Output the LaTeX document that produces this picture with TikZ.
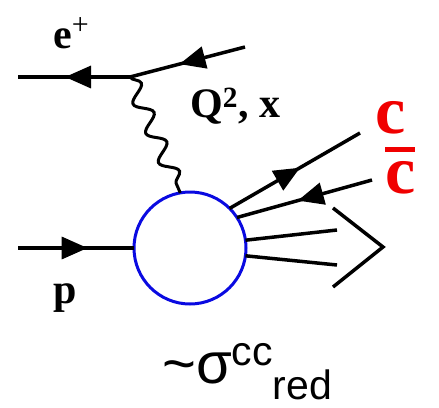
\documentclass[tikz,border=0pt]{standalone}
\usepackage{fontspec}
\setmainfont{Liberation Serif}
\newfontfamily\arialf{Liberation Sans}
\usetikzlibrary{decorations.pathmorphing,decorations.markings,arrows.meta}
\definecolor{blobblue}{RGB}{10,10,225}
\definecolor{qred}{RGB}{240,0,0}
\newcommand{\cbarbox}{\vbox{\hrule height 5pt \kern 9pt \hbox{c}}}
\tikzset{
  plainline/.style={line width=3.5pt},
  fermion/.style={line width=3.5pt, postaction={decorate, decoration={markings,
      mark=at position #1 with {\arrow{Triangle[length=26pt,width=22pt]}}}}},
  photon/.style={line width=3pt, decorate, decoration={snake, segment length=32pt, amplitude=8pt}},
  lab/.style={font=\fontsize{42}{42}\selectfont\bfseries, inner sep=0pt, anchor=base west},
  clab/.style={font=\fontsize{68}{68}\selectfont\bfseries, text=qred, inner sep=0pt, anchor=base west},
}
\begin{document}
\begin{tikzpicture}[x=1pt,y=-1pt]
\useasboundingbox (0,0) rectangle (439,407);
% vertices and ends
\coordinate (vtx) at (130,77);
\coordinate (eout) at (18,77);
\coordinate (ein) at (245,47);
\coordinate (pin) at (18,248);
\coordinate (o1) at (360,133);
\coordinate (o2) at (372,180);
\coordinate (o3) at (337,230);
\coordinate (o4) at (337,265);
\coordinate (ch1) at (333,208);
\coordinate (ch2) at (383,247);
\coordinate (ch3) at (333,287);
% blob
\node[circle, draw=blobblue, line width=3pt, minimum size=112pt, inner sep=0pt, outer sep=0pt] (blob) at (190,248) {};
% lepton lines
\draw[fermion=0.58] (vtx) -- (eout);
\draw[fermion=0.57] (ein) -- (vtx);
\draw[photon] (vtx) -- (blob.100);
% proton
\draw[fermion=0.6] (pin) -- (blob.west);
% outgoing
\draw[fermion=0.54] (blob.45) -- (o1);
\draw[fermion=0.55] (o2) -- (blob.33);
\draw[plainline] (blob.8) -- (o3);
\draw[plainline] (blob.-8) -- (o4);
\draw[plainline] (ch1) -- (ch2) -- (ch3);
% labels
\node[lab] (elab) at (53,48) {e\raisebox{4pt}{\textsuperscript{\mdseries\fontsize{30}{30}\selectfont +}}};
\node[lab] (qlab) at (190,117) {Q\textsuperscript{2}, x};
\node[lab] (plab) at (53,303) {p};
\node[clab] (clab) at (375,133) {c};
\node[clab] (cbarlab) at (385,193) {\cbarbox};
\node[anchor=base west, inner sep=0pt, font=\arialf] (sig) at (162,383)
  {{\fontsize{58}{58}\selectfont\textasciitilde σ}{\fontsize{41}{41}\selectfont\raisebox{18pt}{cc}\raisebox{-16pt}{red}}};
\end{tikzpicture}
\end{document}
